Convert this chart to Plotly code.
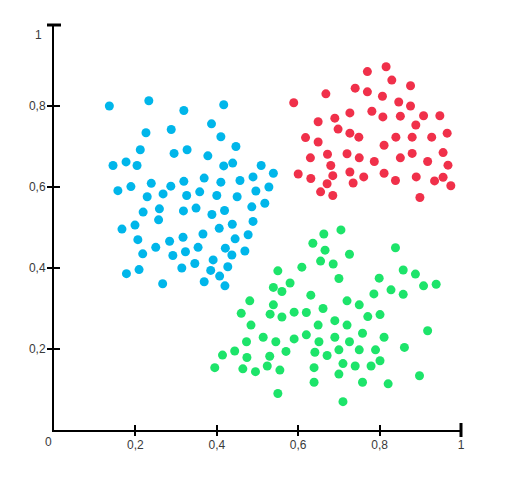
import plotly.graph_objects as go

# ---- data ----
blue_x = [0.136, 0.233, 0.319, 0.417, 0.226, 0.288, 0.387, 0.410, 0.212, 0.295,
          0.327, 0.447, 0.378, 0.145, 0.177, 0.204, 0.417, 0.439, 0.509, 0.539,
          0.239, 0.287, 0.319, 0.369, 0.410, 0.457, 0.489, 0.157, 0.189, 0.229,
          0.268, 0.326, 0.358, 0.400, 0.450, 0.496, 0.528, 0.518, 0.486, 0.219,
          0.259, 0.318, 0.349, 0.388, 0.419, 0.257, 0.199, 0.167, 0.489, 0.438,
          0.406, 0.366, 0.317, 0.284, 0.206, 0.477, 0.445, 0.250, 0.354, 0.421,
          0.218, 0.292, 0.323, 0.437, 0.469, 0.391, 0.346, 0.314, 0.427, 0.385,
          0.209, 0.178, 0.407, 0.369, 0.267, 0.420]
blue_y = [0.800, 0.813, 0.789, 0.803, 0.734, 0.742, 0.756, 0.724, 0.692, 0.683,
          0.692, 0.700, 0.677, 0.653, 0.662, 0.653, 0.652, 0.659, 0.653, 0.634,
          0.609, 0.602, 0.614, 0.622, 0.612, 0.616, 0.625, 0.591, 0.601, 0.576,
          0.583, 0.579, 0.588, 0.579, 0.576, 0.590, 0.600, 0.560, 0.551, 0.538,
          0.546, 0.541, 0.548, 0.532, 0.542, 0.519, 0.506, 0.496, 0.515, 0.508,
          0.498, 0.484, 0.476, 0.466, 0.470, 0.482, 0.472, 0.451, 0.451, 0.449,
          0.435, 0.431, 0.440, 0.432, 0.442, 0.420, 0.411, 0.400, 0.403, 0.394,
          0.396, 0.386, 0.380, 0.366, 0.361, 0.356]

red_x = [0.770, 0.816, 0.830, 0.876, 0.740, 0.770, 0.668, 0.807, 0.589, 0.847,
         0.876, 0.781, 0.727, 0.808, 0.851, 0.908, 0.948, 0.649, 0.690, 0.889,
         0.698, 0.727, 0.749, 0.618, 0.649, 0.840, 0.880, 0.928, 0.966, 0.811,
         0.630, 0.672, 0.720, 0.750, 0.787, 0.851, 0.880, 0.918, 0.956, 0.968,
         0.680, 0.600, 0.631, 0.685, 0.727, 0.761, 0.811, 0.839, 0.890, 0.935,
         0.956, 0.975, 0.671, 0.735, 0.655, 0.685, 0.899]
red_y = [0.885, 0.897, 0.864, 0.850, 0.844, 0.835, 0.830, 0.824, 0.808, 0.810,
         0.800, 0.787, 0.783, 0.773, 0.775, 0.776, 0.776, 0.761, 0.770, 0.753,
         0.743, 0.733, 0.723, 0.722, 0.711, 0.723, 0.723, 0.723, 0.733, 0.703,
         0.672, 0.681, 0.682, 0.672, 0.663, 0.672, 0.683, 0.663, 0.685, 0.654,
         0.653, 0.632, 0.621, 0.628, 0.637, 0.625, 0.634, 0.616, 0.625, 0.615,
         0.624, 0.603, 0.608, 0.610, 0.588, 0.579, 0.574]

green_x = [0.663, 0.705, 0.636, 0.666, 0.726, 0.839, 0.655, 0.686, 0.609, 0.550,
           0.700, 0.799, 0.858, 0.888, 0.580, 0.539, 0.560, 0.908, 0.939, 0.828,
           0.786, 0.858, 0.631, 0.481, 0.539, 0.720, 0.750, 0.460, 0.531, 0.560,
           0.590, 0.620, 0.661, 0.690, 0.771, 0.801, 0.484, 0.649, 0.720, 0.918,
           0.758, 0.811, 0.620, 0.590, 0.514, 0.545, 0.473, 0.651, 0.690, 0.726,
           0.861, 0.444, 0.414, 0.474, 0.530, 0.570, 0.641, 0.671, 0.700, 0.750,
           0.790, 0.801, 0.710, 0.740, 0.779, 0.395, 0.464, 0.495, 0.524, 0.555,
           0.639, 0.700, 0.898, 0.639, 0.758, 0.821, 0.550, 0.710]
green_y = [0.484, 0.494, 0.461, 0.444, 0.434, 0.450, 0.417, 0.410, 0.402, 0.393,
           0.374, 0.375, 0.395, 0.385, 0.363, 0.352, 0.342, 0.356, 0.360, 0.346,
           0.336, 0.335, 0.333, 0.319, 0.309, 0.319, 0.309, 0.288, 0.286, 0.279,
           0.291, 0.290, 0.300, 0.270, 0.280, 0.285, 0.259, 0.259, 0.259, 0.245,
           0.239, 0.229, 0.235, 0.225, 0.229, 0.218, 0.218, 0.218, 0.229, 0.218,
           0.204, 0.195, 0.185, 0.179, 0.182, 0.194, 0.192, 0.184, 0.198, 0.198,
           0.198, 0.171, 0.164, 0.158, 0.158, 0.154, 0.151, 0.144, 0.158, 0.148,
           0.154, 0.138, 0.134, 0.118, 0.118, 0.114, 0.090, 0.070]

x_ticks = [0.2, 0.4, 0.6, 0.8, 1]
x_tick_labels = ["0,2", "0,4", "0,6", "0,8", "1"]
y_ticks = [0.2, 0.4, 0.6, 0.8]
y_tick_labels = ["0,2", "0,4", "0,6", "0,8"]

BLUE = "#00b6ea"
RED = "#f0304a"
GREEN = "#1de46a"
FONT = "Liberation Sans, Arial, Helvetica, sans-serif"
LABEL_COLOR = "#3a3a3a"

fig = go.Figure()
for xs, ys, col in [(blue_x, blue_y, BLUE), (red_x, red_y, RED), (green_x, green_y, GREEN)]:
    fig.add_trace(go.Scatter(x=xs, y=ys, mode="markers",
                             marker=dict(size=9, color=col, line=dict(width=0)),
                             cliponaxis=False, showlegend=False, hoverinfo="skip"))
# empty trace that creates the overlay axes carrying the outer half of the ticks
fig.add_trace(go.Scatter(x=[], y=[], xaxis="x2", yaxis="y2", showlegend=False,
                         hoverinfo="skip"))

# thick end caps at the ends of the two axis lines
shapes = [
    dict(type="line", xref="paper", yref="paper", x0=1, x1=1,
         ysizemode="pixel", yanchor=0, y0=-7, y1=7,
         line=dict(color="black", width=3)),
    dict(type="line", xref="paper", yref="paper", y0=1, y1=1,
         xsizemode="pixel", xanchor=0, x0=-7, x1=7,
         line=dict(color="black", width=3)),
]

annotations = [
    dict(x=0, y=1, xref="x", yref="y", text="1", showarrow=False,
         xanchor="right", yanchor="middle", xshift=-10, yshift=-10,
         font=dict(family=FONT, size=12, color=LABEL_COLOR)),
    dict(x=0, y=0, xref="x", yref="y", text="0", showarrow=False,
         xanchor="center", yanchor="middle", xshift=-6, yshift=-12,
         font=dict(family=FONT, size=12, color=LABEL_COLOR)),
]

common = dict(range=[0, 1], showgrid=False, zeroline=False)

fig.update_layout(
    width=498, height=474,
    margin=dict(l=46, r=45, t=17, b=52),
    paper_bgcolor="white", plot_bgcolor="white",
    shapes=shapes, annotations=annotations,
    font=dict(family=FONT, size=12, color=LABEL_COLOR),
    xaxis=dict(**common, showline=True, linecolor="black", linewidth=2,
               tickvals=x_ticks, ticktext=x_tick_labels,
               ticks="inside", ticklen=5, tickwidth=1.5, tickcolor="black",
               ticklabelstandoff=3,
               tickfont=dict(family=FONT, size=12, color=LABEL_COLOR)),
    yaxis=dict(**common, showline=True, linecolor="black", linewidth=2,
               tickvals=y_ticks, ticktext=y_tick_labels,
               ticks="inside", ticklen=6, tickwidth=1.5, tickcolor="black",
               ticklabelstandoff=4,
               tickfont=dict(family=FONT, size=12, color=LABEL_COLOR)),
    xaxis2=dict(**common, overlaying="x", anchor="y2", side="bottom",
                tickvals=x_ticks[:-1], ticks="outside", ticklen=5,
                tickwidth=1.5, tickcolor="black", showticklabels=False,
                showline=False),
    yaxis2=dict(**common, overlaying="y", anchor="x2", side="left",
                tickvals=y_ticks, ticks="outside", ticklen=6,
                tickwidth=1.5, tickcolor="black", showticklabels=False,
                showline=False),
)

fig.write_html("out.html")
